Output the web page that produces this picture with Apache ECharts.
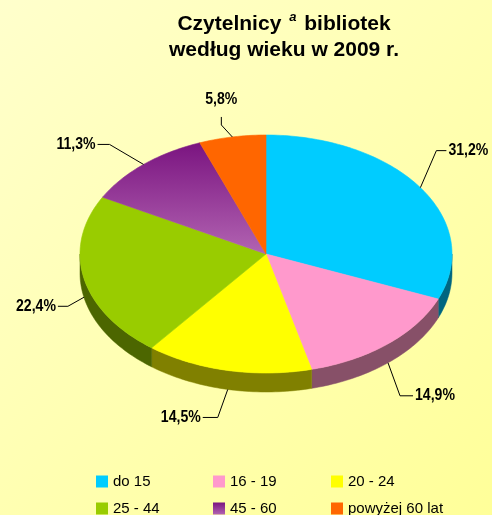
<!DOCTYPE html>
<html>
<head>
<meta charset="utf-8">
<script src="https://cdn.jsdelivr.net/npm/echarts@6/dist/echarts.min.js"></script>
<style>
  html, body { margin: 0; padding: 0; }
  #chart { width: 492px; height: 515px; }
</style>
</head>
<body>
<div id="chart"></div>
<script>
// Data
const categories = ['do 15', '16 - 19', '20 - 24', '25 - 44', '45 - 60', 'powyżej 60 lat'];
const shares = [31.2, 14.9, 14.5, 22.4, 11.3, 5.8];

// Styles
const topColors = [
    '#00CCFF', '#FF99CC', '#FFFF00', '#99CC00',
    { type: 'linear', x: 0, y: 0, x2: 0, y2: 1, colorStops: [
        { offset: 0, color: '#7A1480' }, { offset: 1, color: '#B264B2' }] },
    '#FF6600'
];
const sideColors = ['#006680', '#875068', '#808000', '#4C6600', '#5A1060', '#803300'];

// Pie geometry (pixels) and label leader lines: [elbow offset, tail offset]
const pie = { cx: 266, cy: 254, rx: 186, ry: 119, depth: 19 };
const leaders = [
    [[16, -37], [10, 0]],
    [[12, 33], [13, 0]],
    [[-10, 28], [-15, 0]],
    [[-16, 9], [-10, 0]],
    [[-34, -20], [-12, 0]],
    [[-11, -12], [0, -8]]
];

const total = shares.reduce((a, b) => a + b, 0);
const starts = shares.map((v, i) => shares.slice(0, i).reduce((a, b) => a + b, 0));

function pt(a, dy) {
    return [pie.cx + pie.rx * Math.sin(a), pie.cy - pie.ry * Math.cos(a) + (dy || 0)];
}
function arc(a0, a1, dy) {
    const n = Math.max(2, Math.ceil((a1 - a0) / 0.02));
    const pts = [];
    for (let k = 0; k <= n; k++) pts.push(pt(a0 + (a1 - a0) * k / n, dy));
    return pts;
}

function makeRenderItem(i) {
    return function (params, api) {
        const a0 = starts[i] / total * Math.PI * 2;
        const a1 = a0 + api.value(0) / total * Math.PI * 2;
        const children = [];

        // side wall (front half only)
        const s = Math.max(a0, Math.PI / 2);
        const e = Math.min(a1, Math.PI * 1.5);
        if (s < e) {
            children.push({
                type: 'polygon',
                shape: { points: arc(s, e, 0).concat(arc(s, e, pie.depth).reverse()) },
                style: { fill: sideColors[i], stroke: sideColors[i], lineWidth: 0.5 }
            });
        }

        // top face
        children.push({
            type: 'polygon',
            shape: { points: [[pie.cx, pie.cy]].concat(arc(a0, a1, 0)) },
            style: { fill: topColors[i], stroke: topColors[i], lineWidth: 0.6 }
        });

        // label with leader line
        const mid = (a0 + a1) / 2;
        const anchor = pt(mid, Math.cos(mid) < 0 ? pie.depth : 0);
        const elbow = [anchor[0] + leaders[i][0][0], anchor[1] + leaders[i][0][1]];
        const tail = leaders[i][1];
        const end = [elbow[0] + tail[0], elbow[1] + tail[1]];
        children.push({
            type: 'polyline',
            shape: { points: [anchor, elbow, end] },
            style: { stroke: '#000', lineWidth: 1, fill: null }
        });

        let tx = end[0], ty = end[1], align = 'center';
        if (tail[0] > 0) { tx += 2; align = 'left'; }
        else if (tail[0] < 0) { tx -= 2; align = 'right'; }
        else { ty -= 17; }
        children.push({
            type: 'text',
            x: tx, y: ty, scaleX: 0.88,
            style: {
                text: api.value(0).toFixed(1).replace('.', ',') + '%',
                x: 0, y: 0, align: align, verticalAlign: 'middle',
                font: 'bold 16px "Liberation Sans", Arial',
                fill: '#000'
            }
        });

        return { type: 'group', children: children };
    };
}

const chart = echarts.init(document.getElementById('chart'));

const legendStyle = {
    orient: 'vertical',
    top: 474,
    height: 100,
    padding: 0,
    itemWidth: 12,
    itemHeight: 12,
    itemGap: 12,
    icon: 'rect',
    selectedMode: false,
    textStyle: { fontSize: 15, color: '#000', fontFamily: '"Liberation Sans", Arial' }
};

chart.setOption({
    backgroundColor: {
        type: 'linear', x: 0, y: 0, x2: 1, y2: 1,
        colorStops: [{ offset: 0, color: '#FFFFCC' }, { offset: 1, color: '#FFFF99' }]
    },
    animation: false,
    graphic: [
        {
            type: 'text',
            style: {
                x: 284, y: 24, align: 'center', verticalAlign: 'middle',
                text: '{t|Czytelnicy }{s|a}{t| bibliotek}',
                rich: {
                    t: { fontSize: 21, fontWeight: 'bold', fontFamily: '"Liberation Sans", Arial', color: '#000', lineHeight: 26 },
                    s: { fontSize: 13, fontStyle: 'italic', fontWeight: 'bold', fontFamily: '"Liberation Sans", Arial', color: '#000', verticalAlign: 'top', lineHeight: 13, padding: [0, 2, 0, 2] }
                }
            }
        },
        {
            type: 'text',
            style: {
                x: 284, y: 50, align: 'center', verticalAlign: 'middle',
                text: 'według wieku w 2009 r.',
                font: 'bold 21px "Liberation Sans", Arial',
                fill: '#000'
            }
        }
    ],
    legend: [
        Object.assign({ left: 96, data: [categories[0], categories[3]] }, legendStyle),
        Object.assign({ left: 213, data: [categories[1], categories[4]] }, legendStyle),
        Object.assign({ left: 331, data: [categories[2], categories[5]] }, legendStyle)
    ],
    series: categories.map((name, i) => ({
        type: 'custom',
        name: name,
        coordinateSystem: 'none',
        silent: true,
        itemStyle: { color: topColors[i] },
        renderItem: makeRenderItem(i),
        data: [shares[i]]
    }))
});
</script>
</body>
</html>
